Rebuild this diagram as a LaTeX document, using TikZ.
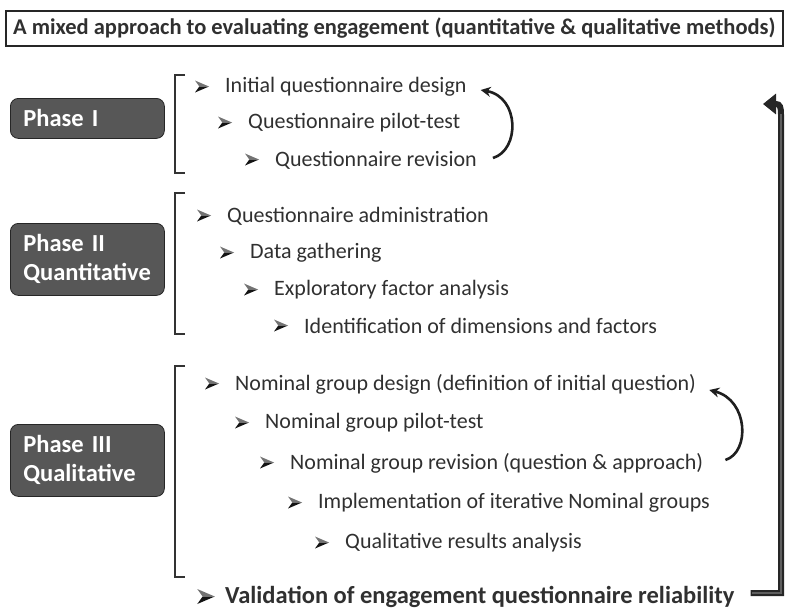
\documentclass[tikz,border=0pt]{standalone}
\usepackage{fontspec}
\setmainfont{Carlito}
\usetikzlibrary{arrows.meta,calc}
\definecolor{phasegray}{HTML}{575757}
\definecolor{txt}{HTML}{303030}
\definecolor{bargray}{HTML}{5E5E5E}
\newcommand{\bul}{\hspace*{30pt}}
\newcommand{\bulbig}{\hspace*{28pt}}
\begin{document}
\begin{tikzpicture}[x=1pt,y=-1pt,
 item/.style={anchor=west, inner sep=0pt, text=txt, font=\fontsize{22}{26}\selectfont},
 phase/.style={draw=black!85, fill=phasegray, rounded corners=8pt, line width=0.8pt, anchor=north west,
   text=white, font=\bfseries\fontsize{24.5}{29}\selectfont, align=left, text width=128pt, inner xsep=13pt, inner ysep=0pt},
 brk/.style={line width=2pt, draw=black!80},
 loop/.style={line width=2.6pt, draw=black!88, -{Stealth[length=10pt,width=10pt]}},
 bullet/.pic={\fill[black!55] (7,0) -- (-7,-6) -- (-2.7,0) -- cycle;
              \fill[black!92] (7,0) -- (-2.7,0) -- (-7,6) -- cycle;}]
\useasboundingbox (0,0) rectangle (787,611);
% title
\node[draw=black!85, line width=1.6pt, minimum width=777pt, minimum height=35pt, anchor=north west, inner sep=0pt,
  font=\bfseries\fontsize{22.5}{26}\selectfont, text=txt] (title) at (5,10)
  {A mixed approach to evaluating engagement (quantitative \& qualitative methods)};
% phases
\node[phase, minimum height=40pt] (p1) at (10,98) {Phase I};
\node[phase, minimum height=72pt] (p2) at (10,223) {Phase II\\Quantitative};
\node[phase, minimum height=72pt] (p3) at (10,424) {Phase III\\Qualitative};
% brackets
\draw[brk] (185,75) -- (175,75) -- (175,173) -- (185,173);
\draw[brk] (185,193) -- (175,193) -- (175,334) -- (185,334);
\draw[brk] (185,366) -- (175,366) -- (175,577) -- (185,577);
% phase I items
\node[item] (a1) at (195,87) {\bul Initial questionnaire design};
\node[item] (a2) at (218,123) {\bul Questionnaire pilot-test};
\node[item] (a3) at (245,160) {\bul Questionnaire revision};
% phase II items
\node[item] (b1) at (197,216) {\bul Questionnaire administration};
\node[item] (b2) at (220,253) {\bul Data gathering};
\node[item] (b3) at (244,290) {\bul Exploratory factor analysis};
\node[item] (b4) at (274,326) {\bul Identification of dimensions and factors};
% phase III items
\node[item] (c1) at (205,384) {\bul Nominal group design (definition of initial question)};
\node[item] (c2) at (235,423) {\bul Nominal group pilot-test};
\node[item] (c3) at (260,463) {\bul Nominal group revision (question \& approach)};
\node[item] (c4) at (288,503) {\bul Implementation of iterative Nominal groups};
\node[item] (c5) at (315,543) {\bul Qualitative results analysis};
% validation
\node[item, font=\bfseries\fontsize{24.5}{28}\selectfont] (v) at (197,597) {\bulbig Validation of engagement questionnaire reliability};
% bullets
\foreach \n in {a1,a2,a3,b1,b2,b3,b4,c1,c2,c3,c4,c5}
  \pic at ($(\n.west)+(7,-0.5)$) {bullet};
\pic[scale=1.25] at ($(v.west)+(9,-0.5)$) {bullet};
% loop arrows
\draw[loop] ($(a3.east)+(16,-2)$) .. controls ($(a3.east)+(43,-10)$) and ($(a1.east)+(53,10)$) .. ($(a1.east)+(14,3)$);
\draw[loop] ($(c3.east)+(22,-3)$) .. controls ($(c3.east)+(47,-11)$) and ($(c1.east)+(52,16)$) .. ($(c1.east)+(13,6)$);
% return arrow
\coordinate (r0) at ($(v.east)+(16,-4)$);
\coordinate (rt) at (763,104);
\draw[line width=6pt, draw=black!85, -{Triangle[length=13pt,width=20pt]}] (r0) -- (781,593) -- (781,115)
   .. controls (781,107) and (780,104) .. (776,104) -- (rt);
\draw[line width=2.8pt, draw=bargray] ($(r0)+(1.6,0)$) -- (781,593) -- (781,114);
\end{tikzpicture}
\end{document}
